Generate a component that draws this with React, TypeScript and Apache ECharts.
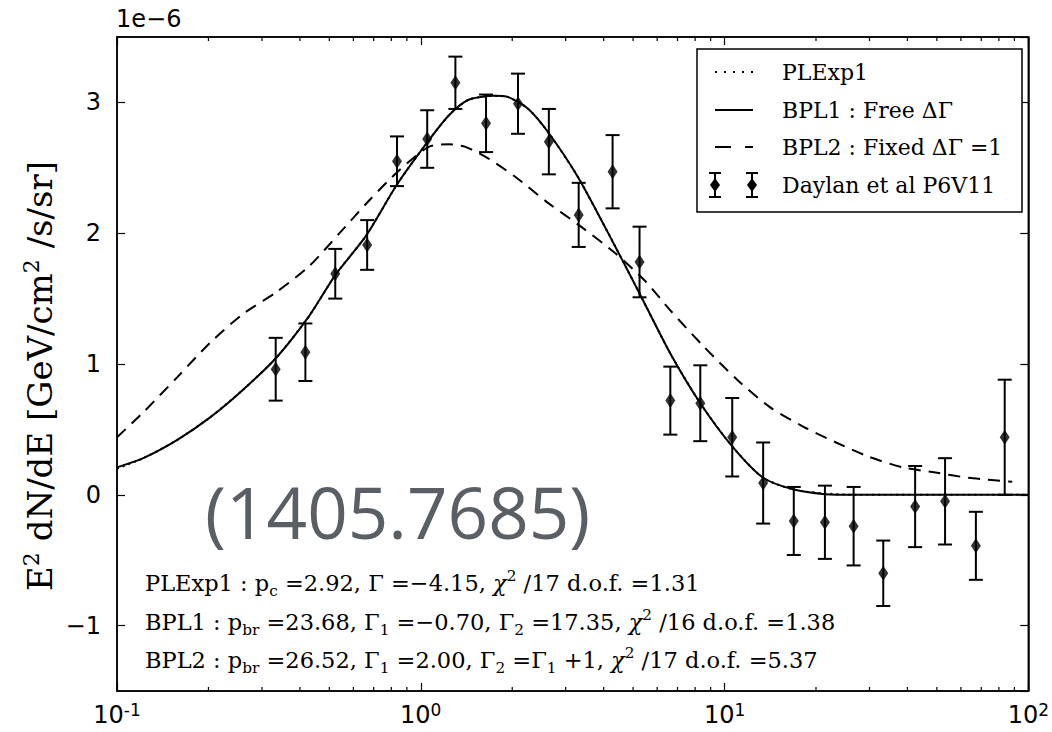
import React, { useEffect, useRef } from "react";
import * as echarts from "echarts";

// Daylan et al P6V11 data points (energy GeV, E^2 dN/dE in 1e-6 units, symmetric error)
const energies = [0.333, 0.417, 0.523, 0.666, 0.835, 1.05, 1.3, 1.64, 2.09, 2.64, 3.31, 4.28, 5.25, 6.63, 8.32, 10.6, 13.4, 16.9, 21.4, 26.6, 33.3, 42.4, 53.2, 67.2, 83.6];
const fluxValues = [0.96, 1.09, 1.69, 1.91, 2.55, 2.72, 3.15, 2.84, 2.99, 2.7, 2.14, 2.47, 1.78, 0.72, 0.7, 0.44, 0.09, -0.2, -0.21, -0.24, -0.6, -0.09, -0.05, -0.39, 0.44];
const fluxErrors = [0.24, 0.22, 0.19, 0.19, 0.19, 0.22, 0.2, 0.22, 0.23, 0.25, 0.245, 0.28, 0.27, 0.26, 0.29, 0.3, 0.31, 0.26, 0.28, 0.3, 0.25, 0.31, 0.33, 0.26, 0.44];

// BPL1 : Free ΔΓ (solid)
const bpl1E = [0.1, 0.122, 0.158, 0.202, 0.259, 0.335, 0.43, 0.523, 0.66, 0.834, 1.047, 1.236, 1.437, 1.734, 1.942, 2.26, 2.63, 3.29, 4.12, 5.17, 6.63, 8.32, 10.6, 13.4, 16.9, 21.4, 27.0, 100];
const bpl1Y = [0.21, 0.28, 0.42, 0.59, 0.8, 1.05, 1.37, 1.68, 1.98, 2.37, 2.69, 2.9, 3.02, 3.05, 3.04, 2.95, 2.77, 2.43, 2.01, 1.57, 1.08, 0.7, 0.37, 0.13, 0.04, 0.005, 0.0, 0.0];

// PLExp1 (dotted) — nearly identical to BPL1
const plexpE = [0.1, 0.122, 0.158, 0.202, 0.259, 0.335, 0.43, 0.523, 0.66, 0.834, 1.047, 1.236, 1.437, 1.734, 1.942, 2.26, 2.63, 3.29, 4.12, 5.17, 6.63, 8.32, 10.6, 13.4, 16.9, 21.4, 27.0, 100];
const plexpY = [0.2, 0.28, 0.42, 0.59, 0.8, 1.05, 1.37, 1.68, 1.98, 2.37, 2.69, 2.9, 3.02, 3.05, 3.04, 2.95, 2.77, 2.43, 2.01, 1.57, 1.08, 0.7, 0.37, 0.13, 0.04, 0.01, 0.0, 0.0];

// BPL2 : Fixed ΔΓ = 1 (dashed)
const bpl2E = [0.1, 0.122, 0.158, 0.202, 0.259, 0.335, 0.43, 0.54, 0.676, 0.848, 1.062, 1.236, 1.403, 1.671, 2.05, 2.63, 3.37, 4.35, 5.45, 6.63, 8.57, 11.0, 14.1, 18.2, 23.3, 29.9, 38.6, 49.5, 63.5, 88.5];
const bpl2Y = [0.44, 0.63, 0.9, 1.16, 1.38, 1.55, 1.75, 2.0, 2.25, 2.48, 2.66, 2.68, 2.66, 2.57, 2.43, 2.23, 2.05, 1.85, 1.64, 1.41, 1.13, 0.88, 0.67, 0.52, 0.4, 0.29, 0.21, 0.17, 0.13, 0.1];

const minorTickValues = [0.2, 0.3, 0.4, 0.5, 0.6, 0.7, 0.8, 0.9, 2, 3, 4, 5, 6, 7, 8, 9, 20, 30, 40, 50, 60, 70, 80, 90];

const legendLabels = ["PLExp1", "BPL1 : Free ΔΓ", "BPL2 : Fixed ΔΓ =1", "Daylan et al P6V11"];
const annotationLines = [
  "PLExp1 : p{sub|c} =2.92, Γ =−4.15, {it|χ}{sup|2} /17 d.o.f. =1.31",
  "BPL1 : p{sub|br} =23.68, Γ{sub|1} =−0.70, Γ{sub|2} =17.35, {it|χ}{sup|2} /16 d.o.f. =1.38",
  "BPL2 : p{sub|br} =26.52, Γ{sub|1} =2.00, Γ{sub|2} =Γ{sub|1} +1, {it|χ}{sup|2} /17 d.o.f. =5.37",
];
const yAxisTitle = "E{sup|2} dN/dE [GeV/cm{sup|2} /s/sr]";
const watermark = "(1405.7685)";
const scaleNote = "1e−6";

const SERIF = "'DejaVu Serif', 'Liberation Serif', serif";
const SANS = "'DejaVu Sans', sans-serif";

const zip = (a: number[], b: number[]) => a.map((v, i) => [v, b[i]]);

export default function App() {
  const ref = useRef<HTMLDivElement>(null);
  useEffect(() => {
    if (!ref.current) return;
    const chart = echarts.init(ref.current, undefined, { renderer: "svg" });
    const serifRich = (size: number) => ({
      sub: { fontSize: size * 0.68, fontFamily: SERIF, lineHeight: 12, verticalAlign: "bottom", fill: "#000" },
      sup: { fontSize: size * 0.68, fontFamily: SERIF, lineHeight: 8, verticalAlign: "top", fill: "#000" },
      it: { fontSize: size, fontFamily: SERIF, fontStyle: "italic", lineHeight: size + 6, fill: "#000" },
    });
    const xLabelRich = {
      b: { fontSize: 24, fontFamily: SANS, color: "#000", lineHeight: 28 },
      s: { fontSize: 17, fontFamily: SANS, color: "#000", lineHeight: 12, verticalAlign: "top" },
    };
    const xFormatter = (v: number) => {
      const e = Math.round(Math.log10(v));
      return `{b|10}{s|${e}}`;
    };
    const axisBase = {
      axisLine: { show: true, onZero: false, lineStyle: { color: "#000", width: 1.5 } },
      axisTick: { show: true, inside: true, length: 8, lineStyle: { color: "#000", width: 1.2 } },
      splitLine: { show: false },
    };
    const legendY = [72, 110, 147, 185];
    const graphics: any[] = [
      {
        type: "rect", z: 100,
        shape: { x: 697, y: 49, width: 325, height: 163 },
        style: { fill: "#fff", stroke: "#000", lineWidth: 1.5 },
      },
      { type: "line", z: 101, shape: { x1: 715, y1: legendY[0], x2: 753, y2: legendY[0] }, style: { stroke: "#000", lineWidth: 2, lineDash: [2, 7] } },
      { type: "line", z: 101, shape: { x1: 715, y1: legendY[1], x2: 753, y2: legendY[1] }, style: { stroke: "#000", lineWidth: 2 } },
      { type: "line", z: 101, shape: { x1: 715, y1: legendY[2], x2: 753, y2: legendY[2] }, style: { stroke: "#000", lineWidth: 2, lineDash: [16, 14] } },
      ...[715, 752].flatMap((x) => [
        { type: "line", z: 101, shape: { x1: x, y1: legendY[3] - 12, x2: x, y2: legendY[3] + 12 }, style: { stroke: "#000", lineWidth: 2 } },
        { type: "line", z: 101, shape: { x1: x - 6, y1: legendY[3] - 12, x2: x + 6, y2: legendY[3] - 12 }, style: { stroke: "#000", lineWidth: 2 } },
        { type: "line", z: 101, shape: { x1: x - 6, y1: legendY[3] + 12, x2: x + 6, y2: legendY[3] + 12 }, style: { stroke: "#000", lineWidth: 2 } },
        { type: "polygon", z: 102, shape: { points: [[x, legendY[3] - 7], [x + 5, legendY[3]], [x, legendY[3] + 7], [x - 5, legendY[3]]] }, style: { fill: "#000" } },
      ]),
      ...legendLabels.map((t, i) => ({
        type: "text", z: 101, x: 782, y: legendY[i],
        style: { text: t, fontSize: 22, fontFamily: SERIF, fill: "#000", verticalAlign: "middle", align: "left" },
      })),
      ...annotationLines.map((t, i) => ({
        type: "text", z: 101, x: 145, y: [583, 622, 660][i],
        style: { text: t, fontSize: 22.5, fontFamily: SERIF, fill: "#000", lineHeight: 30, verticalAlign: "middle", align: "left", rich: serifRich(22.5) },
      })),
      {
        type: "text", z: 101, x: 40, y: 376, rotation: Math.PI / 2,
        style: { text: yAxisTitle, fontSize: 34, fontFamily: SERIF, fill: "#000", lineHeight: 40, align: "center", verticalAlign: "middle", rich: { ...serifRich(34), sup: { fontSize: 22, fontFamily: SERIF, lineHeight: 12, verticalAlign: "top", fill: "#000" } } },
      },
      {
        type: "text", z: 101, x: 205, y: 511,
        style: { text: watermark, fontSize: 71, fontFamily: "'Open Sans', 'Noto Sans', sans-serif", fill: "#5a5f66", verticalAlign: "middle", align: "left" },
      },
      {
        type: "text", z: 101, x: 116, y: 19,
        style: { text: scaleNote, fontSize: 24, fontFamily: SANS, fill: "#000", verticalAlign: "middle", align: "left" },
      },
    ];

    const lineSeries = (name: string, data: number[][], type: any) => ({
      name, type: "line", data, showSymbol: false, smooth: 0.25, z: 3, silent: true,
      lineStyle: { color: "#000", width: 2, type },
    });

    chart.setOption({
      animation: false,
      backgroundColor: "#fff",
      grid: { left: 117, right: 18, top: 37, bottom: 41, show: true, borderColor: "#000", borderWidth: 1.5, backgroundColor: "transparent" },
      xAxis: [
        {
          type: "log", logBase: 10, min: 0.1, max: 100, position: "bottom", ...axisBase,
          axisLabel: { show: true, formatter: xFormatter, rich: xLabelRich, margin: 10 },
        },
        {
          type: "log", logBase: 10, min: 0.1, max: 100, position: "top", ...axisBase,
          axisLabel: { show: false },
        },
      ],
      yAxis: [
        {
          type: "value", min: -1.5, max: 3.5, splitNumber: 5, position: "left", ...axisBase,
          axisLabel: {
            show: true, margin: 16, fontSize: 24, fontFamily: SANS, color: "#000",
            showMinLabel: false, showMaxLabel: false,
            formatter: (v: number) => (Number.isInteger(v) ? String(v).replace("-", "−") : ""),
          },
        },
        {
          type: "value", min: -1.5, max: 3.5, splitNumber: 5, position: "right", ...axisBase,
          axisLabel: { show: false },
        },
      ],
      graphic: graphics,
      series: [
        lineSeries("PLExp1", zip(plexpE, plexpY), [2, 4]),
        lineSeries("BPL1", zip(bpl1E, bpl1Y), "solid"),
        lineSeries("BPL2", zip(bpl2E, bpl2Y), [12, 8]),
        {
          name: "errors", type: "custom", z: 4, silent: true,
          data: energies.map((e, i) => [e, fluxValues[i], fluxErrors[i]]),
          encode: { x: 0, y: 1 },
          renderItem: (params: any, api: any) => {
            const e = api.value(0), v = api.value(1), err = api.value(2);
            const top = api.coord([e, v + err]);
            const bot = api.coord([e, v - err]);
            const st = { stroke: "#000", lineWidth: 2 };
            return {
              type: "group",
              children: [
                { type: "line", shape: { x1: top[0], y1: top[1], x2: bot[0], y2: bot[1] }, style: st },
                { type: "line", shape: { x1: top[0] - 7, y1: top[1], x2: top[0] + 7, y2: top[1] }, style: st },
                { type: "line", shape: { x1: bot[0] - 7, y1: bot[1], x2: bot[0] + 7, y2: bot[1] }, style: st },
              ],
            };
          },
        },
        {
          name: "Daylan et al P6V11", type: "scatter", z: 5, silent: true,
          data: zip(energies, fluxValues), symbol: "diamond", symbolSize: [10, 15],
          itemStyle: { color: "#000" },
        },
        {
          name: "minorTicks", type: "custom", z: 6, silent: true, clip: false,
          data: minorTickValues.map((v) => [v, 0]),
          encode: { x: 0, y: 1 },
          renderItem: (params: any, api: any) => {
            const v = api.value(0);
            const b = api.coord([v, -1.5]);
            const t = api.coord([v, 3.5]);
            const st = { stroke: "#000", lineWidth: 1.2 };
            return {
              type: "group",
              children: [
                { type: "line", shape: { x1: b[0], y1: b[1], x2: b[0], y2: b[1] - 4 }, style: st },
                { type: "line", shape: { x1: t[0], y1: t[1], x2: t[0], y2: t[1] + 4 }, style: st },
              ],
            };
          },
        },
      ],
    });
    return () => chart.dispose();
  }, []);
  return <div ref={ref} style={{ position: "absolute", left: 0, top: 0, width: 1052, height: 732 }} />;
}
